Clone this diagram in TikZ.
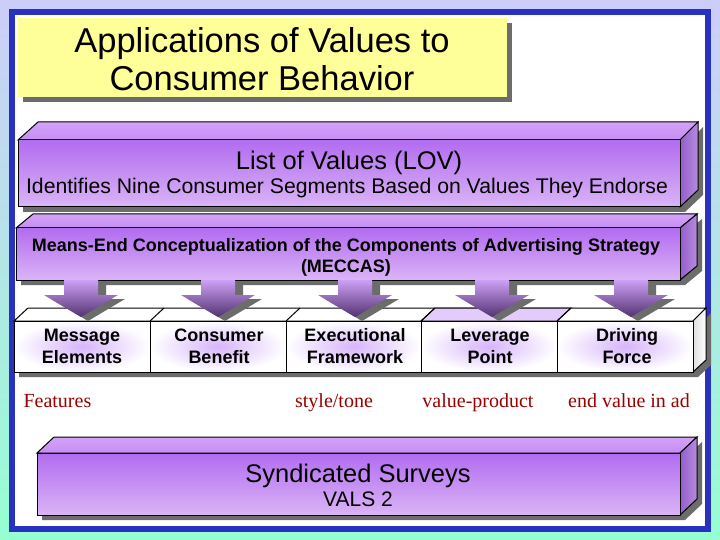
\documentclass[tikz,border=0pt]{standalone}
\usepackage{fontspec}
\setmainfont{Liberation Sans}
\newfontfamily\redserif{Liberation Serif}

\definecolor{bgtop}{RGB}{205,205,250}
\definecolor{bgbottom}{RGB}{150,255,210}
\definecolor{frameblue}{RGB}{40,50,190}
\definecolor{titleyellow}{RGB}{255,255,153}
\definecolor{barhigh}{RGB}{178,108,240}
\definecolor{barlow}{RGB}{218,180,246}
\definecolor{bartopc}{RGB}{200,140,245}
\definecolor{barsidec}{RGB}{150,92,205}
\definecolor{glow}{RGB}{215,180,250}
\definecolor{darkred}{RGB}{153,0,0}

\tikzset{
  shadow/.style={fill=gray!85!black},
  barfront/.style={draw=black, line width=1pt, top color=barhigh, bottom color=barlow},
  bartop/.style={draw=black, line width=1pt, top color=bartopc!80!white, bottom color=bartopc},
  barside/.style={draw=black, line width=1pt, left color=barsidec, right color=barsidec!70!white},
  downarrow/.style={top color=barhigh!65!white, bottom color=barsidec!55!black},
  segfront/.style={draw=black, line width=1pt, inner color=glow, outer color=white},
  barlabel/.style={font=\fontsize{18}{22}\selectfont\bfseries, align=center},
  redlabel/.style={font=\redserif\fontsize{20}{22}\selectfont, text=darkred, anchor=base}
}

\begin{document}
\begin{tikzpicture}[x=1pt, y=-1pt]

	\useasboundingbox (0,0) rectangle (720,540);

	% Background and frame
	\shade[top color=bgtop, bottom color=bgbottom] (0,0) rectangle (720,540);
	\filldraw[fill=white, draw=frameblue, line width=6pt] (12,12) rectangle (708,529);

	% Title
	\fill[shadow] (23,23) rectangle (512,102);
	\fill[titleyellow] (18,18) rectangle (507,97);
	\node[font=\fontsize{34.5}{38}\selectfont, align=center] (title) at (262,59)
		{Applications of Values to\\Consumer Behavior};

	% List of Values bar
	\fill[shadow] (23,145) -- (685,145) -- (703,127) -- (703,195) -- (685,212) -- (23,212) -- cycle;
	\draw[bartop] (18,140) -- (38,122) -- (698,122) -- (680,140) -- cycle;
	\draw[barside] (680,140) -- (698,122) -- (698,190) -- (680,207) -- cycle;
	\draw[barfront] (18,140) rectangle (680,207);
	\node[font=\fontsize{25.5}{25}\selectfont] (lov) at (349,163) {List of Values (LOV)};
	\node[font=\fontsize{21.2}{25}\selectfont] (lovsub) at (347,188)
		{Identifies Nine Consumer Segments Based on Values They Endorse};

	% MECCAS bar
	\fill[shadow] (21,233) -- (685,233) -- (702,219) -- (702,271) -- (685,285) -- (21,285) -- cycle;
	\draw[bartop] (16,228) -- (33,214) -- (697,214) -- (680,228) -- cycle;
	\draw[barside] (680,228) -- (697,214) -- (697,266) -- (680,280) -- cycle;
	\draw[barfront] (16,228) rectangle (680,280);
	\node[font=\fontsize{18}{21}\selectfont\bfseries, align=center] (meccas) at (346,257)
		{Means-End Conceptualization of the Components of Advertising Strategy\\(MECCAS)};

	% Segment row
	\fill[shadow] (19,326) -- (698,326) -- (711,313) -- (711,365) -- (698,377) -- (19,377) -- cycle;
	\filldraw[fill=white, draw=black, line width=1pt] (14,321) -- (28,308) -- (706,308) -- (693,321) -- cycle;
	\filldraw[fill=glow!70!white, draw=black, line width=1pt] (421,321) -- (435,308) -- (571,308) -- (557,321) -- cycle;
	\foreach \sx in {150,286,421,557}
		\draw[line width=1pt] (\sx,321) -- (\sx+14,308);
	\draw[left color=gray!25, right color=white, draw=black, line width=1pt]
		(693,321) -- (706,308) -- (706,360) -- (693,372) -- cycle;
	\foreach \sa/\sb in {14/150, 150/286, 286/421, 421/557, 557/693}
		\draw[segfront] (\sa,321) rectangle (\sb,372);

	% Arrows
	\foreach \cx in {81,218,355,492,631} {
		\fill[shadow] (\cx-9,284) -- (\cx+25,284) -- (\cx+25,299) -- (\cx+44,299)
			-- (\cx+7,321) -- (\cx-30,299) -- (\cx-9,299) -- cycle;
		\shade[downarrow] (\cx-17,280) -- (\cx+17,280) -- (\cx+17,295) -- (\cx+37,295)
			-- (\cx,317) -- (\cx-37,295) -- (\cx-17,295) -- cycle;
	}

	\node[barlabel] (msg) at (82,346) {Message\\Elements};
	\node[barlabel] (ben) at (219,346) {Consumer\\Benefit};
	\node[barlabel] (exe) at (355,346) {Executional\\Framework};
	\node[barlabel] (lev) at (490,346) {Leverage\\Point};
	\node[barlabel] (drv) at (627,346) {Driving\\Force};

	% Red notes
	\node[redlabel, anchor=base west] (feat) at (20,407) {Features};
	\node[redlabel] (tone) at (334,407) {style/tone};
	\node[redlabel] (valprod) at (478,407) {value-product};
	\node[redlabel] (endval) at (629,407) {end value in ad};

	% Syndicated Surveys bar
	\fill[shadow] (42,458) -- (685,458) -- (702,442) -- (702,504) -- (685,520) -- (42,520) -- cycle;
	\draw[bartop] (37,453) -- (54,437) -- (697,437) -- (680,453) -- cycle;
	\draw[barside] (680,453) -- (697,437) -- (697,499) -- (680,515) -- cycle;
	\draw[barfront] (37,453) rectangle (680,515);
	\node[font=\fontsize{25.5}{25}\selectfont] (surv) at (358,476) {Syndicated Surveys};
	\node[font=\fontsize{21}{25}\selectfont] (vals) at (358,499) {VALS 2};

\end{tikzpicture}
\end{document}
